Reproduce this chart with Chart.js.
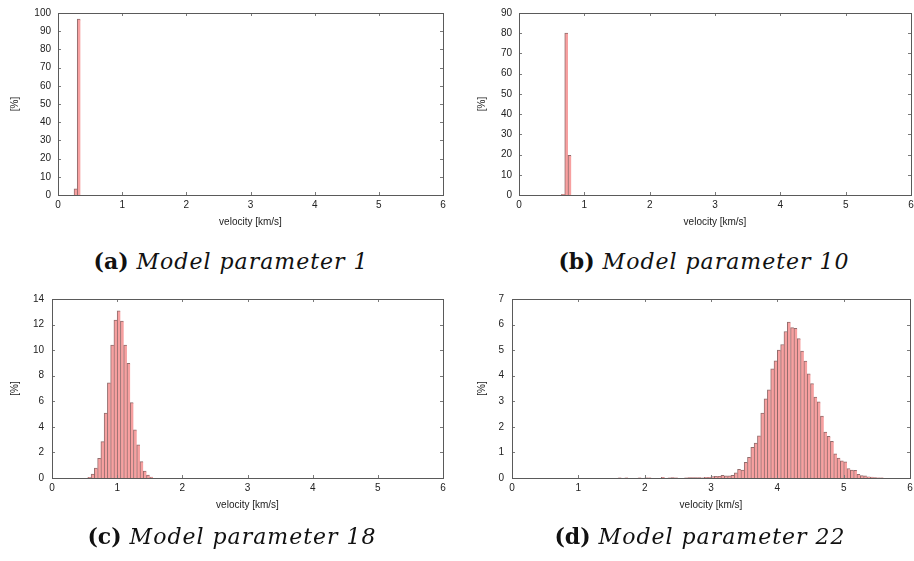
<!DOCTYPE html>
<html>
<head>
<meta charset="utf-8">
<title>Velocity histograms</title>
<script src="https://cdn.jsdelivr.net/npm/chart.js@4.4.1/dist/chart.umd.min.js"></script>
<style>
  html, body { margin: 0; padding: 0; background: #fff; width: 914px; height: 561px; overflow: hidden; }
  .panel { position: absolute; }
  .panel canvas { display: block; }
  .caption {
    position: absolute;
    font-family: "DejaVu Serif", serif;
    font-size: 22px;
    letter-spacing: 1px;
    line-height: 1;
    color: #111;
    white-space: nowrap;
    transform: translateX(-50%);
  }
  .caption b { font-style: normal; font-weight: bold; margin-right: 8px; letter-spacing: 0; }
  .caption i { font-style: italic; font-weight: normal; }
</style>
</head>
<body>

<div class="panel" style="left:0;top:0"><canvas id="histA" width="457" height="245"></canvas></div>
<div class="panel" style="left:457px;top:0"><canvas id="histB" width="467" height="245"></canvas></div>
<div class="panel" style="left:0;top:285px"><canvas id="histC" width="457" height="245"></canvas></div>
<div class="panel" style="left:457px;top:285px"><canvas id="histD" width="467" height="245"></canvas></div>

<div class="caption" style="left:231px;top:250px"><b>(a)</b><i>Model parameter 1</i></div>
<div class="caption" style="left:704px;top:250px"><b>(b)</b><i>Model parameter 10</i></div>
<div class="caption" style="left:232px;top:525px"><b>(c)</b><i>Model parameter 18</i></div>
<div class="caption" style="left:700px;top:525px"><b>(d)</b><i>Model parameter 22</i></div>

<script>
'use strict';

// bin width of every histogram [km/s]
var binWidth = 0.05;

// lower edge of each velocity bin [km/s] and share of samples in it [%]
var binsA = [0.25, 0.30];
var percentA = [3.4, 96.6];

var binsB = [0.65, 0.70, 0.75];
var percentB = [0.3, 80.1, 19.6];

var binsC = [0.55, 0.60, 0.65, 0.70, 0.75, 0.80, 0.85, 0.90, 0.95, 1.00,
             1.05, 1.10, 1.15, 1.20, 1.25, 1.30, 1.35, 1.40, 1.45, 1.50];
var percentC = [0.05, 0.30, 0.77, 1.54, 2.85, 5.08, 7.44, 10.4, 12.36, 13.08,
                12.28, 10.4, 8.97, 5.90, 3.77, 2.60, 1.28, 0.54, 0.23, 0.08];

var binsD = [1.60, 1.65, 1.70, 1.75, 1.80, 1.85, 1.90, 1.95, 2.00, 2.05,
             2.10, 2.15, 2.20, 2.25, 2.30, 2.35, 2.40, 2.45, 2.50, 2.55,
             2.60, 2.65, 2.70, 2.75, 2.80, 2.85, 2.90, 2.95, 3.00, 3.05,
             3.10, 3.15, 3.20, 3.25, 3.30, 3.35, 3.40, 3.45, 3.50, 3.55,
             3.60, 3.65, 3.70, 3.75, 3.80, 3.85, 3.90, 3.95, 4.00, 4.05,
             4.10, 4.15, 4.20, 4.25, 4.30, 4.35, 4.40, 4.45, 4.50, 4.55,
             4.60, 4.65, 4.70, 4.75, 4.80, 4.85, 4.90, 4.95, 5.00, 5.05,
             5.10, 5.15, 5.20, 5.25, 5.30, 5.35, 5.40, 5.45, 5.50, 5.55];
var percentD = [0.01, 0, 0.01, 0, 0, 0, 0.01, 0, 0.01, 0.01,
                0, 0, 0, 0.03, 0, 0.01, 0.02, 0.01, 0, 0,
                0.01, 0.02, 0.02, 0.02, 0.02, 0.01, 0.03, 0.03, 0.06, 0.07,
                0.07, 0.10, 0.08, 0.08, 0.10, 0.20, 0.34, 0.31, 0.61, 0.81,
                1.20, 1.37, 1.65, 2.54, 3.10, 3.45, 4.27, 4.58, 5.00, 5.22,
                5.73, 6.10, 5.88, 5.85, 5.45, 4.96, 4.57, 4.07, 3.69, 3.16,
                2.98, 2.42, 1.80, 1.63, 1.43, 0.95, 0.78, 0.67, 0.63, 0.37,
                0.31, 0.30, 0.14, 0.09, 0.08, 0.05, 0.04, 0.02, 0.01, 0.01];

// velocity axis ticks [km/s]
var velocityMin = 0;
var velocityMax = 6;
var velocityStep = 1;

var textColor = '#222';
var frameColor = '#5a5a5a';
var tickColor = '#7a7a7a';
var barFill = 'rgb(247,160,160)';
var barEdge = 'rgba(110,60,60,0.75)';
var tickFont = { family: '"Liberation Sans", Arial, sans-serif', size: 10 };

// gnuplot-like box: border all round with inward ticks mirrored on each side
var framePlugin = {
    id: 'frame',
    afterDatasetsDraw: function(chart) {
        var a = chart.chartArea,
            ctx = chart.ctx,
            xs = chart.scales.x,
            ys = chart.scales.y,
            len = 3;

        ctx.save();
        ctx.lineWidth = 1;
        ctx.strokeStyle = tickColor;
        ctx.beginPath();
        xs.ticks.forEach(function(t) {
            var px = Math.round(xs.getPixelForValue(t.value)) + 0.5;
            ctx.moveTo(px, a.bottom);
            ctx.lineTo(px, a.bottom - len);
            ctx.moveTo(px, a.top);
            ctx.lineTo(px, a.top + len);
        });
        ys.ticks.forEach(function(t) {
            var py = Math.round(ys.getPixelForValue(t.value)) + 0.5;
            ctx.moveTo(a.left, py);
            ctx.lineTo(a.left + len, py);
            ctx.moveTo(a.right, py);
            ctx.lineTo(a.right - len, py);
        });
        ctx.stroke();

        ctx.strokeStyle = frameColor;
        ctx.strokeRect(Math.round(a.left) + 0.5, Math.round(a.top) + 0.5,
                       Math.round(a.right - a.left), Math.round(a.bottom - a.top));
        ctx.restore();
    }
};

function histogram(canvasId, bins, percent, yMax, yStep, box) {
    var points = bins.map(function(lo, i) {
        return { x: lo + binWidth / 2, y: percent[i] };
    });

    return new Chart(document.getElementById(canvasId), {
        type: 'bar',
        data: {
            datasets: [{
                data: points,
                backgroundColor: barFill,
                borderColor: barEdge,
                borderWidth: { left: 1, top: 1, right: 0, bottom: 0 },
                barPercentage: 1,
                categoryPercentage: 1
            }]
        },
        options: {
            responsive: false,
            animation: false,
            events: [],
            layout: { padding: { left: 0, top: box.top, right: box.right, bottom: 0 } },
            plugins: {
                legend: { display: false },
                tooltip: { enabled: false }
            },
            scales: {
                x: {
                    type: 'linear',
                    min: velocityMin,
                    max: velocityMax,
                    offset: false,
                    grid: { display: false, drawTicks: false },
                    border: { display: false },
                    ticks: { stepSize: velocityStep, padding: 4, color: textColor, font: tickFont, maxRotation: 0 },
                    title: {
                        display: true,
                        text: 'velocity [km/s]',
                        color: textColor,
                        font: tickFont,
                        padding: { top: 0, bottom: box.titleBottom }
                    },
                    afterFit: function(scale) { scale.height = box.xHeight; }
                },
                y: {
                    min: 0,
                    max: yMax,
                    grid: { display: false, drawTicks: false },
                    border: { display: false },
                    ticks: { stepSize: yStep, padding: box.tickPad, color: textColor, font: tickFont },
                    title: {
                        display: true,
                        text: '[%]',
                        color: textColor,
                        font: tickFont,
                        padding: { top: box.titleLeft, bottom: 0 }
                    },
                    afterFit: function(scale) { scale.width = box.yWidth; }
                }
            }
        },
        plugins: [framePlugin]
    });
}

histogram('histA', binsA, percentA, 100, 10,
    { top: 13, right: 14, yWidth: 58, xHeight: 50, tickPad: 7, titleLeft: 9, titleBottom: 17 });
histogram('histB', binsB, percentB, 90, 10,
    { top: 13, right: 13, yWidth: 62, xHeight: 50, tickPad: 7, titleLeft: 19, titleBottom: 17 });
histogram('histC', binsC, percentC, 14, 2,
    { top: 11, right: 14, yWidth: 52, xHeight: 52, tickPad: 8, titleLeft: 9, titleBottom: 19 });
histogram('histD', binsD, percentD, 7, 1,
    { top: 11, right: 14, yWidth: 55, xHeight: 52, tickPad: 8, titleLeft: 19, titleBottom: 19 });
</script>
</body>
</html>
